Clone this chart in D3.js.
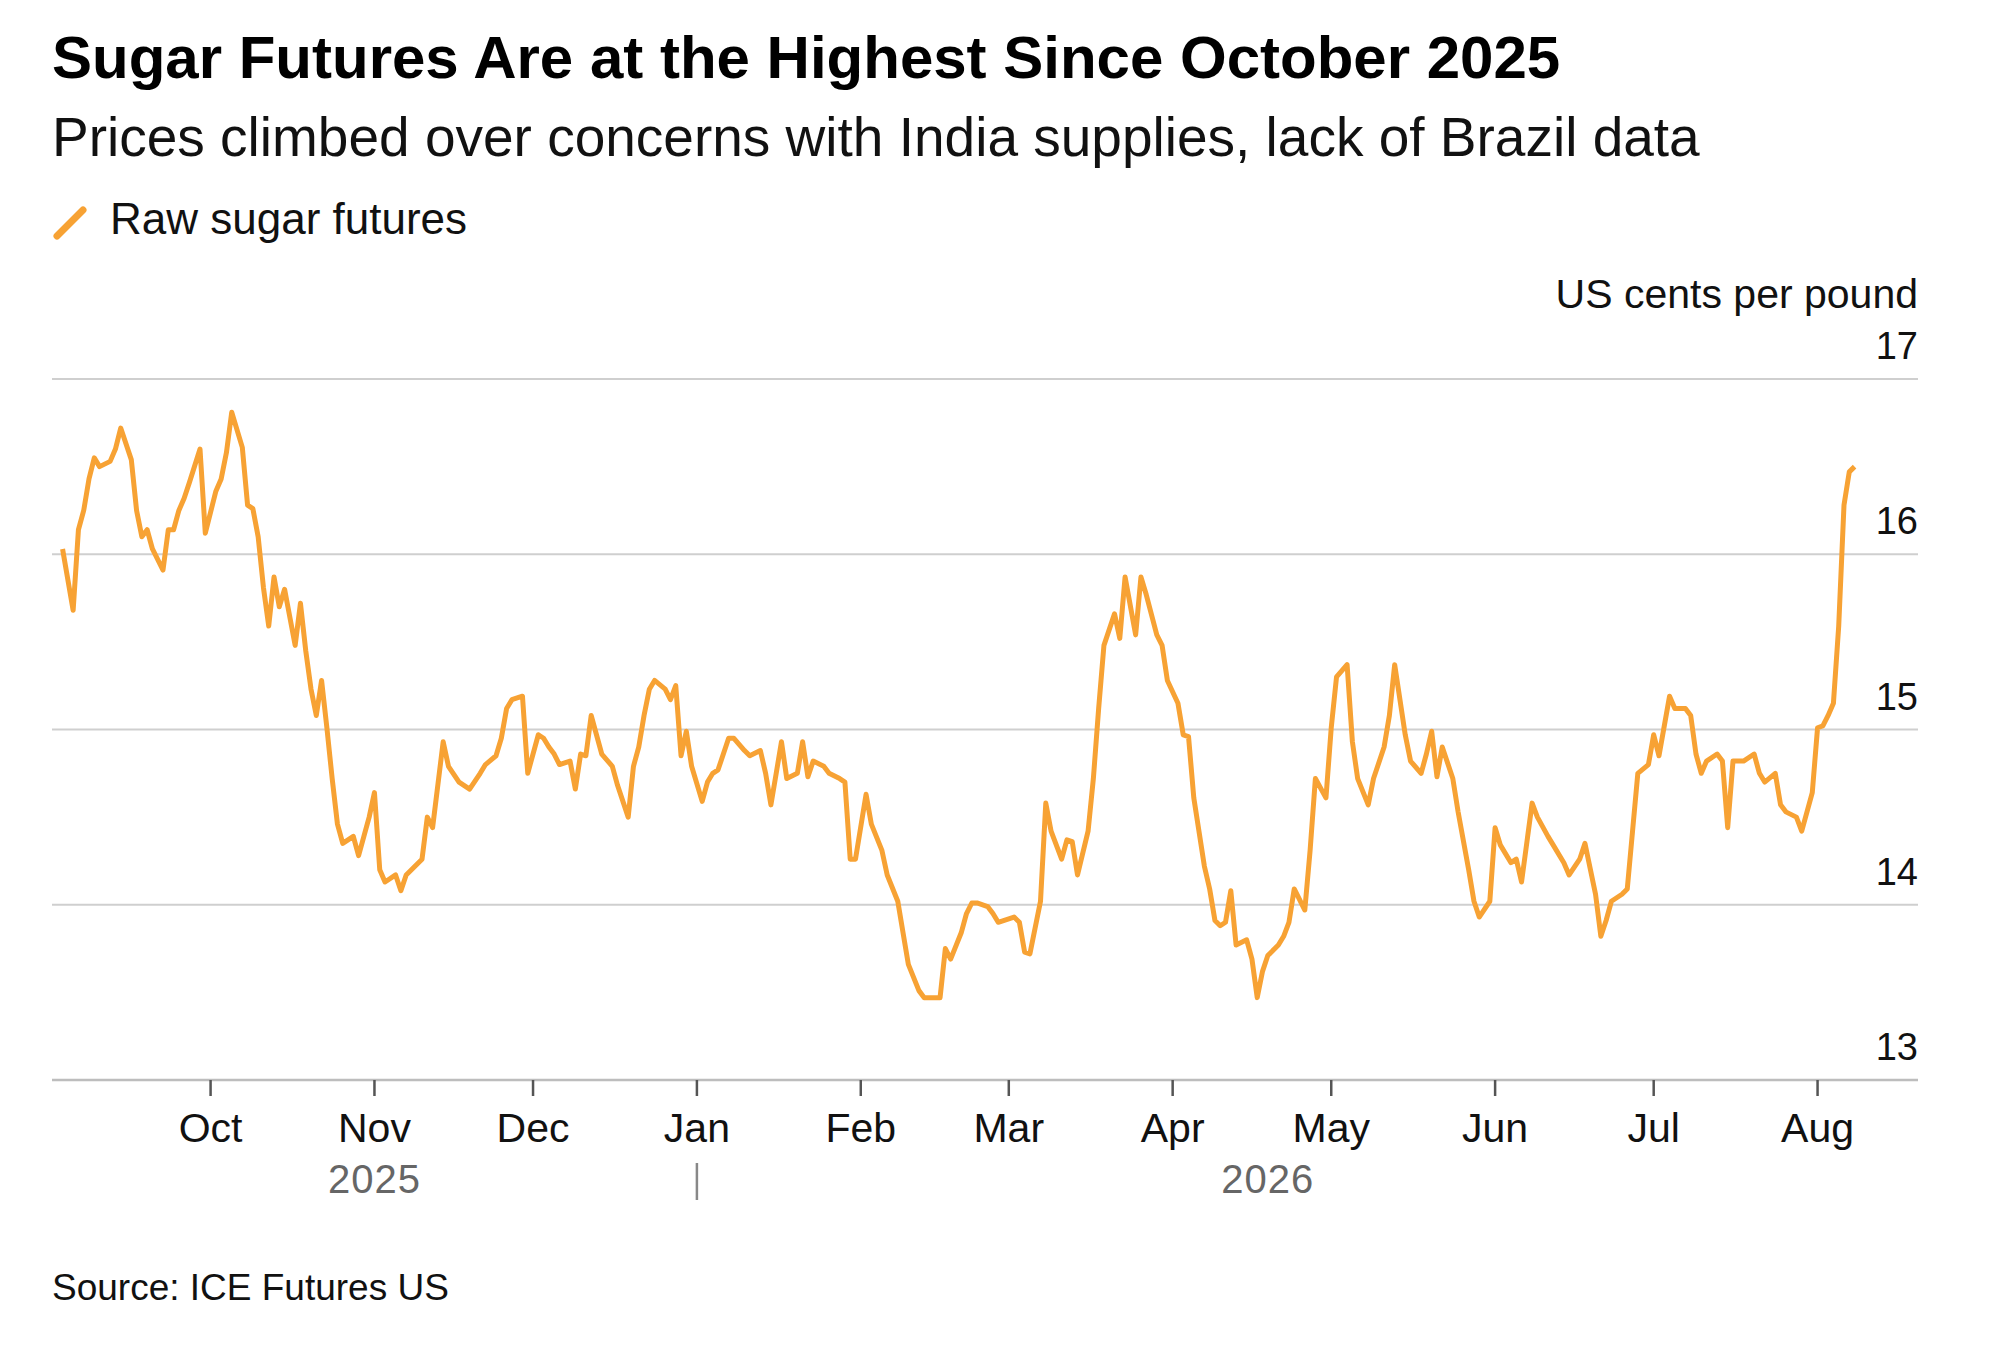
<!DOCTYPE html>
<html><head><meta charset="utf-8">
<script src="https://cdn.jsdelivr.net/npm/d3@7"></script>
<style>body{margin:0;background:#fff}svg{display:block}text{font-family:"Liberation Sans",Arial,sans-serif}</style>
</head><body><svg id="c" width="2000" height="1347"></svg>
<script>
const dates = ["2025-09-03","2025-09-05","2025-09-06","2025-09-07","2025-09-08","2025-09-09","2025-09-10","2025-09-12","2025-09-13","2025-09-14","2025-09-16","2025-09-17","2025-09-18","2025-09-19","2025-09-20","2025-09-22","2025-09-23","2025-09-24","2025-09-25","2025-09-26","2025-09-27","2025-09-29","2025-09-30",
"2025-10-02","2025-10-03","2025-10-04","2025-10-05","2025-10-07","2025-10-08","2025-10-09","2025-10-10","2025-10-11","2025-10-12","2025-10-13","2025-10-14","2025-10-15","2025-10-17","2025-10-18","2025-10-19","2025-10-20","2025-10-21","2025-10-22","2025-10-23","2025-10-24","2025-10-25","2025-10-26","2025-10-28","2025-10-29","2025-10-30","2025-10-31",
"2025-11-01","2025-11-02","2025-11-03","2025-11-05","2025-11-06","2025-11-07","2025-11-08","2025-11-10","2025-11-11","2025-11-12","2025-11-14","2025-11-15","2025-11-17","2025-11-18","2025-11-19","2025-11-21","2025-11-22","2025-11-24","2025-11-25","2025-11-26","2025-11-27","2025-11-29","2025-11-30",
"2025-12-02","2025-12-03","2025-12-04","2025-12-05","2025-12-06","2025-12-08","2025-12-09","2025-12-10","2025-12-11","2025-12-12","2025-12-13","2025-12-14","2025-12-16","2025-12-17","2025-12-19","2025-12-20","2025-12-21","2025-12-22","2025-12-23","2025-12-24","2025-12-26","2025-12-27","2025-12-28","2025-12-29","2025-12-30","2025-12-31",
"2026-01-02","2026-01-03","2026-01-04","2026-01-05","2026-01-07","2026-01-08","2026-01-10","2026-01-11","2026-01-13","2026-01-14","2026-01-15","2026-01-16","2026-01-17","2026-01-18","2026-01-20","2026-01-21","2026-01-22","2026-01-23","2026-01-25","2026-01-26","2026-01-28","2026-01-29","2026-01-30","2026-01-31",
"2026-02-02","2026-02-03","2026-02-05","2026-02-06","2026-02-08","2026-02-09","2026-02-10","2026-02-12","2026-02-13","2026-02-14","2026-02-16","2026-02-17","2026-02-18","2026-02-20","2026-02-21","2026-02-22","2026-02-23","2026-02-25","2026-02-26","2026-02-27","2026-02-28",
"2026-03-02","2026-03-03","2026-03-04","2026-03-05","2026-03-07","2026-03-08","2026-03-09","2026-03-11","2026-03-12","2026-03-13","2026-03-14","2026-03-16","2026-03-17","2026-03-18","2026-03-19","2026-03-21","2026-03-22","2026-03-23","2026-03-25","2026-03-26","2026-03-27","2026-03-29","2026-03-30","2026-03-31",
"2026-04-02","2026-04-03","2026-04-04","2026-04-05","2026-04-07","2026-04-08","2026-04-09","2026-04-10","2026-04-11","2026-04-12","2026-04-13","2026-04-15","2026-04-16","2026-04-17","2026-04-18","2026-04-19","2026-04-21","2026-04-22","2026-04-23","2026-04-24","2026-04-26","2026-04-27","2026-04-28","2026-04-30",
"2026-05-01","2026-05-02","2026-05-04","2026-05-05","2026-05-06","2026-05-08","2026-05-09","2026-05-11","2026-05-12","2026-05-13","2026-05-15","2026-05-16","2026-05-18","2026-05-19","2026-05-20","2026-05-21","2026-05-22","2026-05-24","2026-05-25","2026-05-27","2026-05-28","2026-05-29","2026-05-31",
"2026-06-01","2026-06-02","2026-06-04","2026-06-05","2026-06-06","2026-06-08","2026-06-09","2026-06-11","2026-06-12","2026-06-14","2026-06-15","2026-06-17","2026-06-18","2026-06-20","2026-06-21","2026-06-22","2026-06-23","2026-06-25","2026-06-26","2026-06-27","2026-06-28","2026-06-30",
"2026-07-01","2026-07-02","2026-07-04","2026-07-05","2026-07-07","2026-07-08","2026-07-09","2026-07-10","2026-07-11","2026-07-13","2026-07-14","2026-07-15","2026-07-16","2026-07-18","2026-07-20","2026-07-21","2026-07-22","2026-07-24","2026-07-25","2026-07-26","2026-07-28","2026-07-29","2026-07-31",
"2026-08-01","2026-08-02","2026-08-03","2026-08-04","2026-08-05","2026-08-06","2026-08-07","2026-08-08"];
const prices = [16.03,15.68,16.14,16.25,16.43,16.55,16.50,16.53,16.60,16.72,16.54,16.25,16.10,16.14,16.03,15.91,16.14,16.14,16.25,16.32,16.41,16.60,16.12,
16.36,16.43,16.58,16.81,16.61,16.28,16.26,16.10,15.81,15.59,15.87,15.70,15.80,15.48,15.72,15.45,15.23,15.08,15.28,15.01,14.72,14.46,14.35,14.39,14.28,14.39,14.50,
14.64,14.20,14.13,14.17,14.08,14.17,14.20,14.26,14.50,14.44,14.93,14.79,14.70,14.68,14.66,14.75,14.80,14.85,14.95,15.12,15.17,15.19,14.75,
14.97,14.95,14.90,14.86,14.80,14.82,14.66,14.86,14.85,15.08,14.97,14.86,14.79,14.68,14.50,14.79,14.90,15.08,15.23,15.28,15.23,15.17,15.25,14.85,14.99,14.79,
14.59,14.70,14.75,14.77,14.95,14.95,14.88,14.85,14.88,14.75,14.57,14.75,14.93,14.72,14.75,14.93,14.73,14.82,14.79,14.75,14.72,14.70,14.26,14.26,
14.63,14.46,14.31,14.17,14.02,13.84,13.66,13.51,13.47,13.47,13.47,13.75,13.69,13.84,13.95,14.01,14.01,13.99,13.95,13.90,13.91,
13.93,13.90,13.73,13.72,14.02,14.58,14.42,14.26,14.37,14.36,14.17,14.42,14.72,15.12,15.48,15.66,15.52,15.87,15.54,15.87,15.77,15.54,15.48,15.28,
15.15,14.97,14.96,14.61,14.22,14.09,13.91,13.88,13.90,14.08,13.77,13.80,13.69,13.47,13.62,13.71,13.77,13.82,13.90,14.09,13.97,14.31,14.72,14.61,
15.01,15.30,15.37,14.93,14.72,14.57,14.72,14.90,15.08,15.37,14.97,14.82,14.75,14.86,14.99,14.73,14.90,14.72,14.53,14.20,14.02,13.93,14.02,
14.44,14.34,14.24,14.26,14.13,14.58,14.50,14.39,14.34,14.24,14.17,14.26,14.35,14.06,13.82,13.91,14.02,14.06,14.09,14.42,14.75,14.80,
14.97,14.85,15.19,15.12,15.12,15.08,14.86,14.75,14.82,14.86,14.82,14.44,14.82,14.82,14.86,14.75,14.70,14.75,14.57,14.53,14.50,14.42,14.64,
15.01,15.02,15.08,15.15,15.59,16.28,16.47,16.50];
const yTicks = [13,14,15,16,17];
const monthTicks = ["2025-10-01","2025-11-01","2025-12-01","2026-01-01","2026-02-01","2026-03-01","2026-04-01","2026-05-01","2026-06-01","2026-07-01","2026-08-01"];
const yearLabels = [{label:"2025",date:"2025-11-01"},{label:"2026",date:"2026-04-19"}];
const yearBreak = "2026-01-01";

const parse = d3.timeParse("%Y-%m-%d");
const data = dates.map((d,i)=>({date:parse(d), v:prices[i]}));
const svg = d3.select("#c");
const L=52, R=1918, T=379, B=1080;
const x = d3.scaleTime().domain([parse("2025-09-01"), parse("2026-08-20")]).range([L,R]);
const y = d3.scaleLinear().domain([13,17]).range([B,T]);

svg.append("text").attr("x",52).attr("y",78).attr("font-size",60).attr("font-weight","bold").attr("fill","#000").text("Sugar Futures Are at the Highest Since October 2025");
svg.append("text").attr("x",52).attr("y",156).attr("font-size",55).attr("fill","#111").text("Prices climbed over concerns with India supplies, lack of Brazil data");
svg.append("line").attr("x1",57).attr("x2",83).attr("y1",236).attr("y2",210).attr("stroke","#F7A234").attr("stroke-width",7).attr("stroke-linecap","round");
svg.append("text").attr("x",110).attr("y",234).attr("font-size",44).attr("fill","#111").text("Raw sugar futures");

svg.append("g").selectAll("line").data(yTicks.filter(t=>t!==13)).join("line")
  .attr("x1",L).attr("x2",R).attr("y1",d=>y(d)).attr("y2",d=>y(d)).attr("stroke","#cfcfcf").attr("stroke-width",2);
svg.append("line").attr("x1",L).attr("x2",R).attr("y1",y(13)).attr("y2",y(13)).attr("stroke","#bdbdbd").attr("stroke-width",2.5);
svg.append("g").selectAll("text").data(yTicks).join("text")
  .attr("x",R).attr("y",d=>y(d)-20).attr("text-anchor","end").attr("font-size",38).attr("fill","#111").text(d=>d);
svg.append("text").attr("x",R).attr("y",308).attr("text-anchor","end").attr("font-size",41).attr("fill","#111").text("US cents per pound");

const mt = monthTicks.map(parse);
const fmt = d3.timeFormat("%b");
svg.append("g").selectAll("line").data(mt).join("line")
  .attr("x1",d=>x(d)).attr("x2",d=>x(d)).attr("y1",B).attr("y2",B+16).attr("stroke","#555").attr("stroke-width",2.5);
svg.append("g").selectAll("text").data(mt).join("text")
  .attr("x",d=>x(d)).attr("y",1142).attr("text-anchor","middle").attr("font-size",41).attr("fill","#111").text(d=>fmt(d));
svg.append("g").selectAll("text").data(yearLabels).join("text")
  .attr("x",d=>x(parse(d.date))).attr("y",1193).attr("text-anchor","middle").attr("font-size",40).attr("fill","#666").attr("letter-spacing",1).text(d=>d.label);
svg.append("line").attr("x1",x(parse(yearBreak))).attr("x2",x(parse(yearBreak))).attr("y1",1163).attr("y2",1200).attr("stroke","#888").attr("stroke-width",2.5);

svg.append("path").datum(data).attr("fill","none").attr("stroke","#F7A234").attr("stroke-width",5).attr("stroke-linejoin","round")
  .attr("d",d3.line().x(d=>x(d.date)).y(d=>y(d.v)));

svg.append("text").attr("x",52).attr("y",1300).attr("font-size",37).attr("fill","#111").text("Source: ICE Futures US");
</script></body></html>
